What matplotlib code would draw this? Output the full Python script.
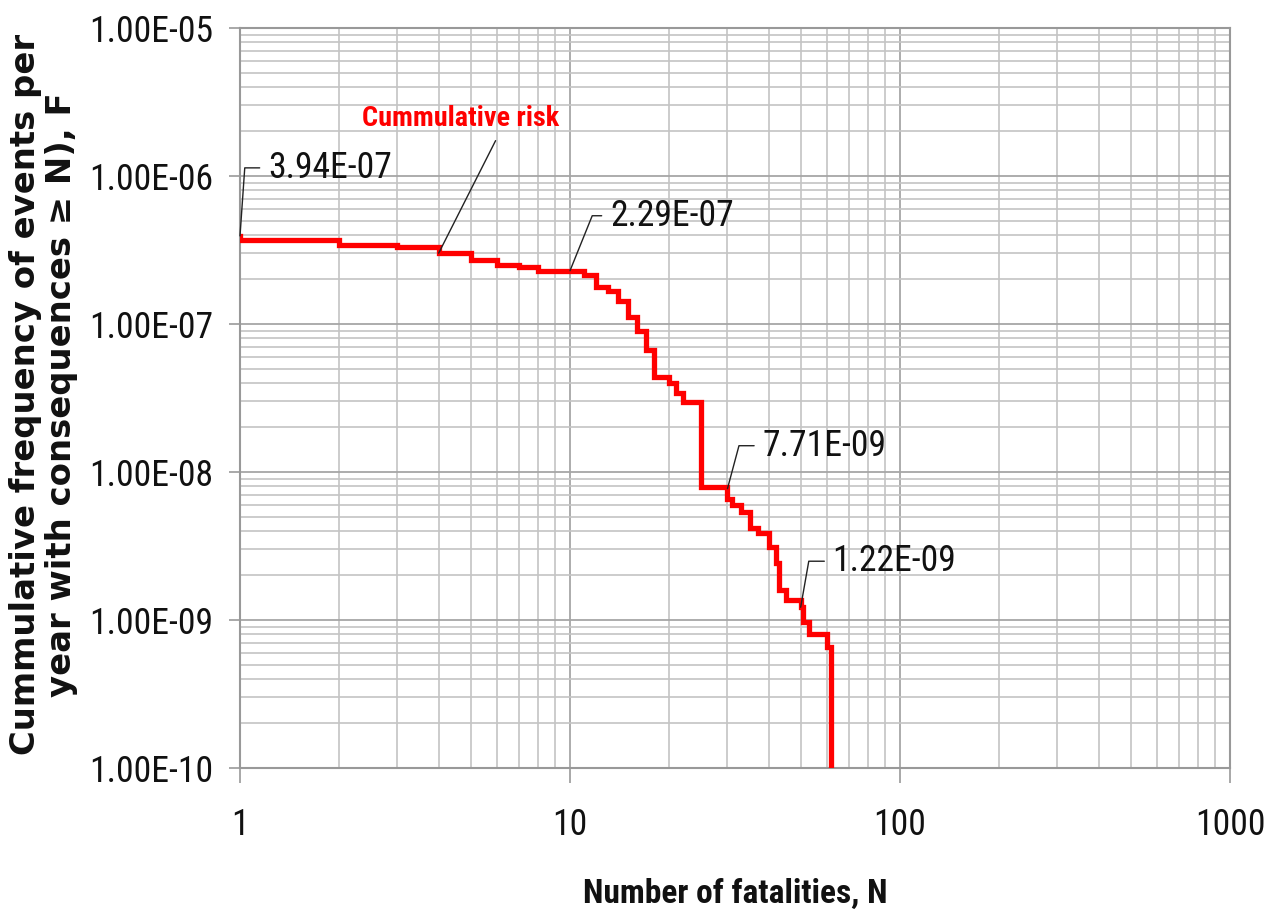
import os
import matplotlib
matplotlib.use("Agg")
import matplotlib.pyplot as plt
from matplotlib import font_manager
from matplotlib.font_manager import FontProperties
from matplotlib.ticker import FixedLocator, LogLocator, FuncFormatter, NullFormatter

# F-N curve: number of fatalities N and cumulative frequency F (steps)
N_steps = [1, 1, 2, 3, 4, 5, 6, 7, 8, 11, 12, 13, 14, 15, 16, 17, 18, 20, 21, 22,
           25, 30, 31, 33, 35, 37, 40, 42, 43, 45, 50, 51, 53, 60, 62]
F_steps = [3.94e-7, 3.70e-7, 3.42e-7, 3.30e-7, 3.01e-7, 2.70e-7, 2.50e-7, 2.42e-7,
           2.29e-7, 2.15e-7, 1.77e-7, 1.66e-7, 1.43e-7, 1.11e-7, 8.9e-8, 6.7e-8,
           4.4e-8, 3.99e-8, 3.4e-8, 2.95e-8, 7.9e-9, 6.6e-9, 6.0e-9, 5.4e-9,
           4.17e-9, 3.86e-9, 3.13e-9, 2.43e-9, 1.6e-9, 1.37e-9, 1.22e-9, 9.7e-10,
           8.0e-10, 6.6e-10, 1e-11]

# labelled points
ann_N = [1, 10, 30, 50]
ann_F = [3.94e-7, 2.29e-7, 7.71e-9, 1.22e-9]

series_label = "Cummulative risk"
series_N, series_F = 4, 3.01e-7

x_ticks = [1, 10, 100, 1000]
y_ticks = [1e-10, 1e-9, 1e-8, 1e-7, 1e-6, 1e-5]

xlabel = "Number of fatalities, N"
ylabel = "Cummulative frequency of events per\nyear with consequences \u2265 N), F"

# the original text is very condensed: look for a narrow face
files = {os.path.basename(f.fname): f.fname for f in font_manager.fontManager.ttflist}
fp_reg = FontProperties(family="Roboto Condensed")
fp_bold = FontProperties(family="Roboto Condensed", weight="bold")
for reg, bold in [("NotoSans-ExtraCondensed.ttf", "NotoSans-ExtraCondensedBold.ttf"),
                  ("NotoSans-Condensed.ttf", "NotoSans-CondensedBold.ttf")]:
    if reg in files and bold in files:
        fp_reg = FontProperties(fname=files[reg])
        fp_bold = FontProperties(fname=files[bold])
        break

fig = plt.figure(figsize=(12.68, 9.22), dpi=100)
renderer = fig.canvas.get_renderer()


def fit_size(s, target_px, fp):
    # font size that gives the wanted text width in pixels
    p = fp.copy()
    p.set_size(20)
    t = fig.text(0, 0, s, fontproperties=p)
    w = t.get_window_extent(renderer).width
    t.remove()
    return 20 * target_px / w


def props(fp, size):
    p = fp.copy()
    p.set_size(size)
    return p


num_size = fit_size("1.00E-05", 124, fp_reg)
lab_size = fit_size(xlabel, 305, fp_bold)
risk_size = fit_size(series_label, 196, fp_bold)
ylab_fp = FontProperties(family="DejaVu Sans", weight="bold")
ylab_size = fit_size(ylabel.split("\n")[0], 720, ylab_fp)

ax = fig.add_axes([240 / 1268, 1 - 768 / 922, 990 / 1268, 740 / 922])

ax.plot(N_steps, F_steps, color="#ff0000", lw=3.8, drawstyle="steps-post",
        solid_joinstyle="miter", zorder=3)

ax.set_xscale("log")
ax.set_yscale("log")
ax.set_xlim(1, 1000)
ax.set_ylim(1e-10, 1e-5)

ax.xaxis.set_major_locator(FixedLocator(x_ticks))
ax.yaxis.set_major_locator(FixedLocator(y_ticks))
ax.xaxis.set_minor_locator(LogLocator(base=10, subs=range(2, 10), numticks=20))
ax.yaxis.set_minor_locator(LogLocator(base=10, subs=range(2, 10), numticks=20))
ax.xaxis.set_major_formatter(FuncFormatter(lambda v, p: f"{v:.0f}"))
ax.yaxis.set_major_formatter(FuncFormatter(lambda v, p: f"{v:.2E}"))
ax.xaxis.set_minor_formatter(NullFormatter())
ax.yaxis.set_minor_formatter(NullFormatter())

ax.grid(which="major", color="#a6a6a6", lw=1.3)
ax.grid(which="minor", color="#c4c4c4", lw=1.2)
ax.set_axisbelow(True)
for s in ax.spines.values():
    s.set_color("#999999")
    s.set_linewidth(1.5)

ax.tick_params(which="minor", length=0)
ax.tick_params(axis="y", which="major", length=8, width=1.2, color="#999999",
               pad=11, labelcolor="#111111")
ax.tick_params(axis="x", which="major", length=11, width=1.2, color="#999999",
               pad=17, labelcolor="#111111")
for lab in ax.get_xticklabels() + ax.get_yticklabels():
    lab.set_fontproperties(props(fp_reg, num_size))

ax.set_xlabel(xlabel, fontproperties=props(fp_bold, lab_size), color="#111111")
ax.xaxis.set_label_coords(0.5, -0.148)
ax.set_ylabel(ylabel, fontproperties=props(ylab_fp, ylab_size), color="#111111",
              linespacing=1.1)
ax.yaxis.set_label_coords(-0.164, 0.505)

# value labels with bent leader lines
offsets = [(28, 68, 86), (40, 55, 68), (35, 43, 75), (32, 46, 80)]
for n, f, (dx, dy, ang) in zip(ann_N, ann_F, offsets):
    ax.annotate(f"{f:.2E}", xy=(n, f), xytext=(dx, dy), textcoords="offset pixels",
                ha="left", va="center", fontproperties=props(fp_reg, num_size),
                color="#111111", annotation_clip=False,
                arrowprops=dict(arrowstyle="-", color="#222222", lw=1.0,
                                shrinkA=4, shrinkB=0, relpos=(0, 0.5),
                                connectionstyle=f"angle,angleA=0,angleB={ang},rad=0"))

ax.annotate(series_label, xy=(series_N, series_F), xytext=(22, 135),
            textcoords="offset pixels", ha="center", va="center",
            fontproperties=props(fp_bold, risk_size), color="#ff0000",
            arrowprops=dict(arrowstyle="-", color="#222222", lw=1.0,
                            shrinkA=5, shrinkB=0, relpos=(0.70, 0)))

fig.savefig("out.png", dpi=100)
